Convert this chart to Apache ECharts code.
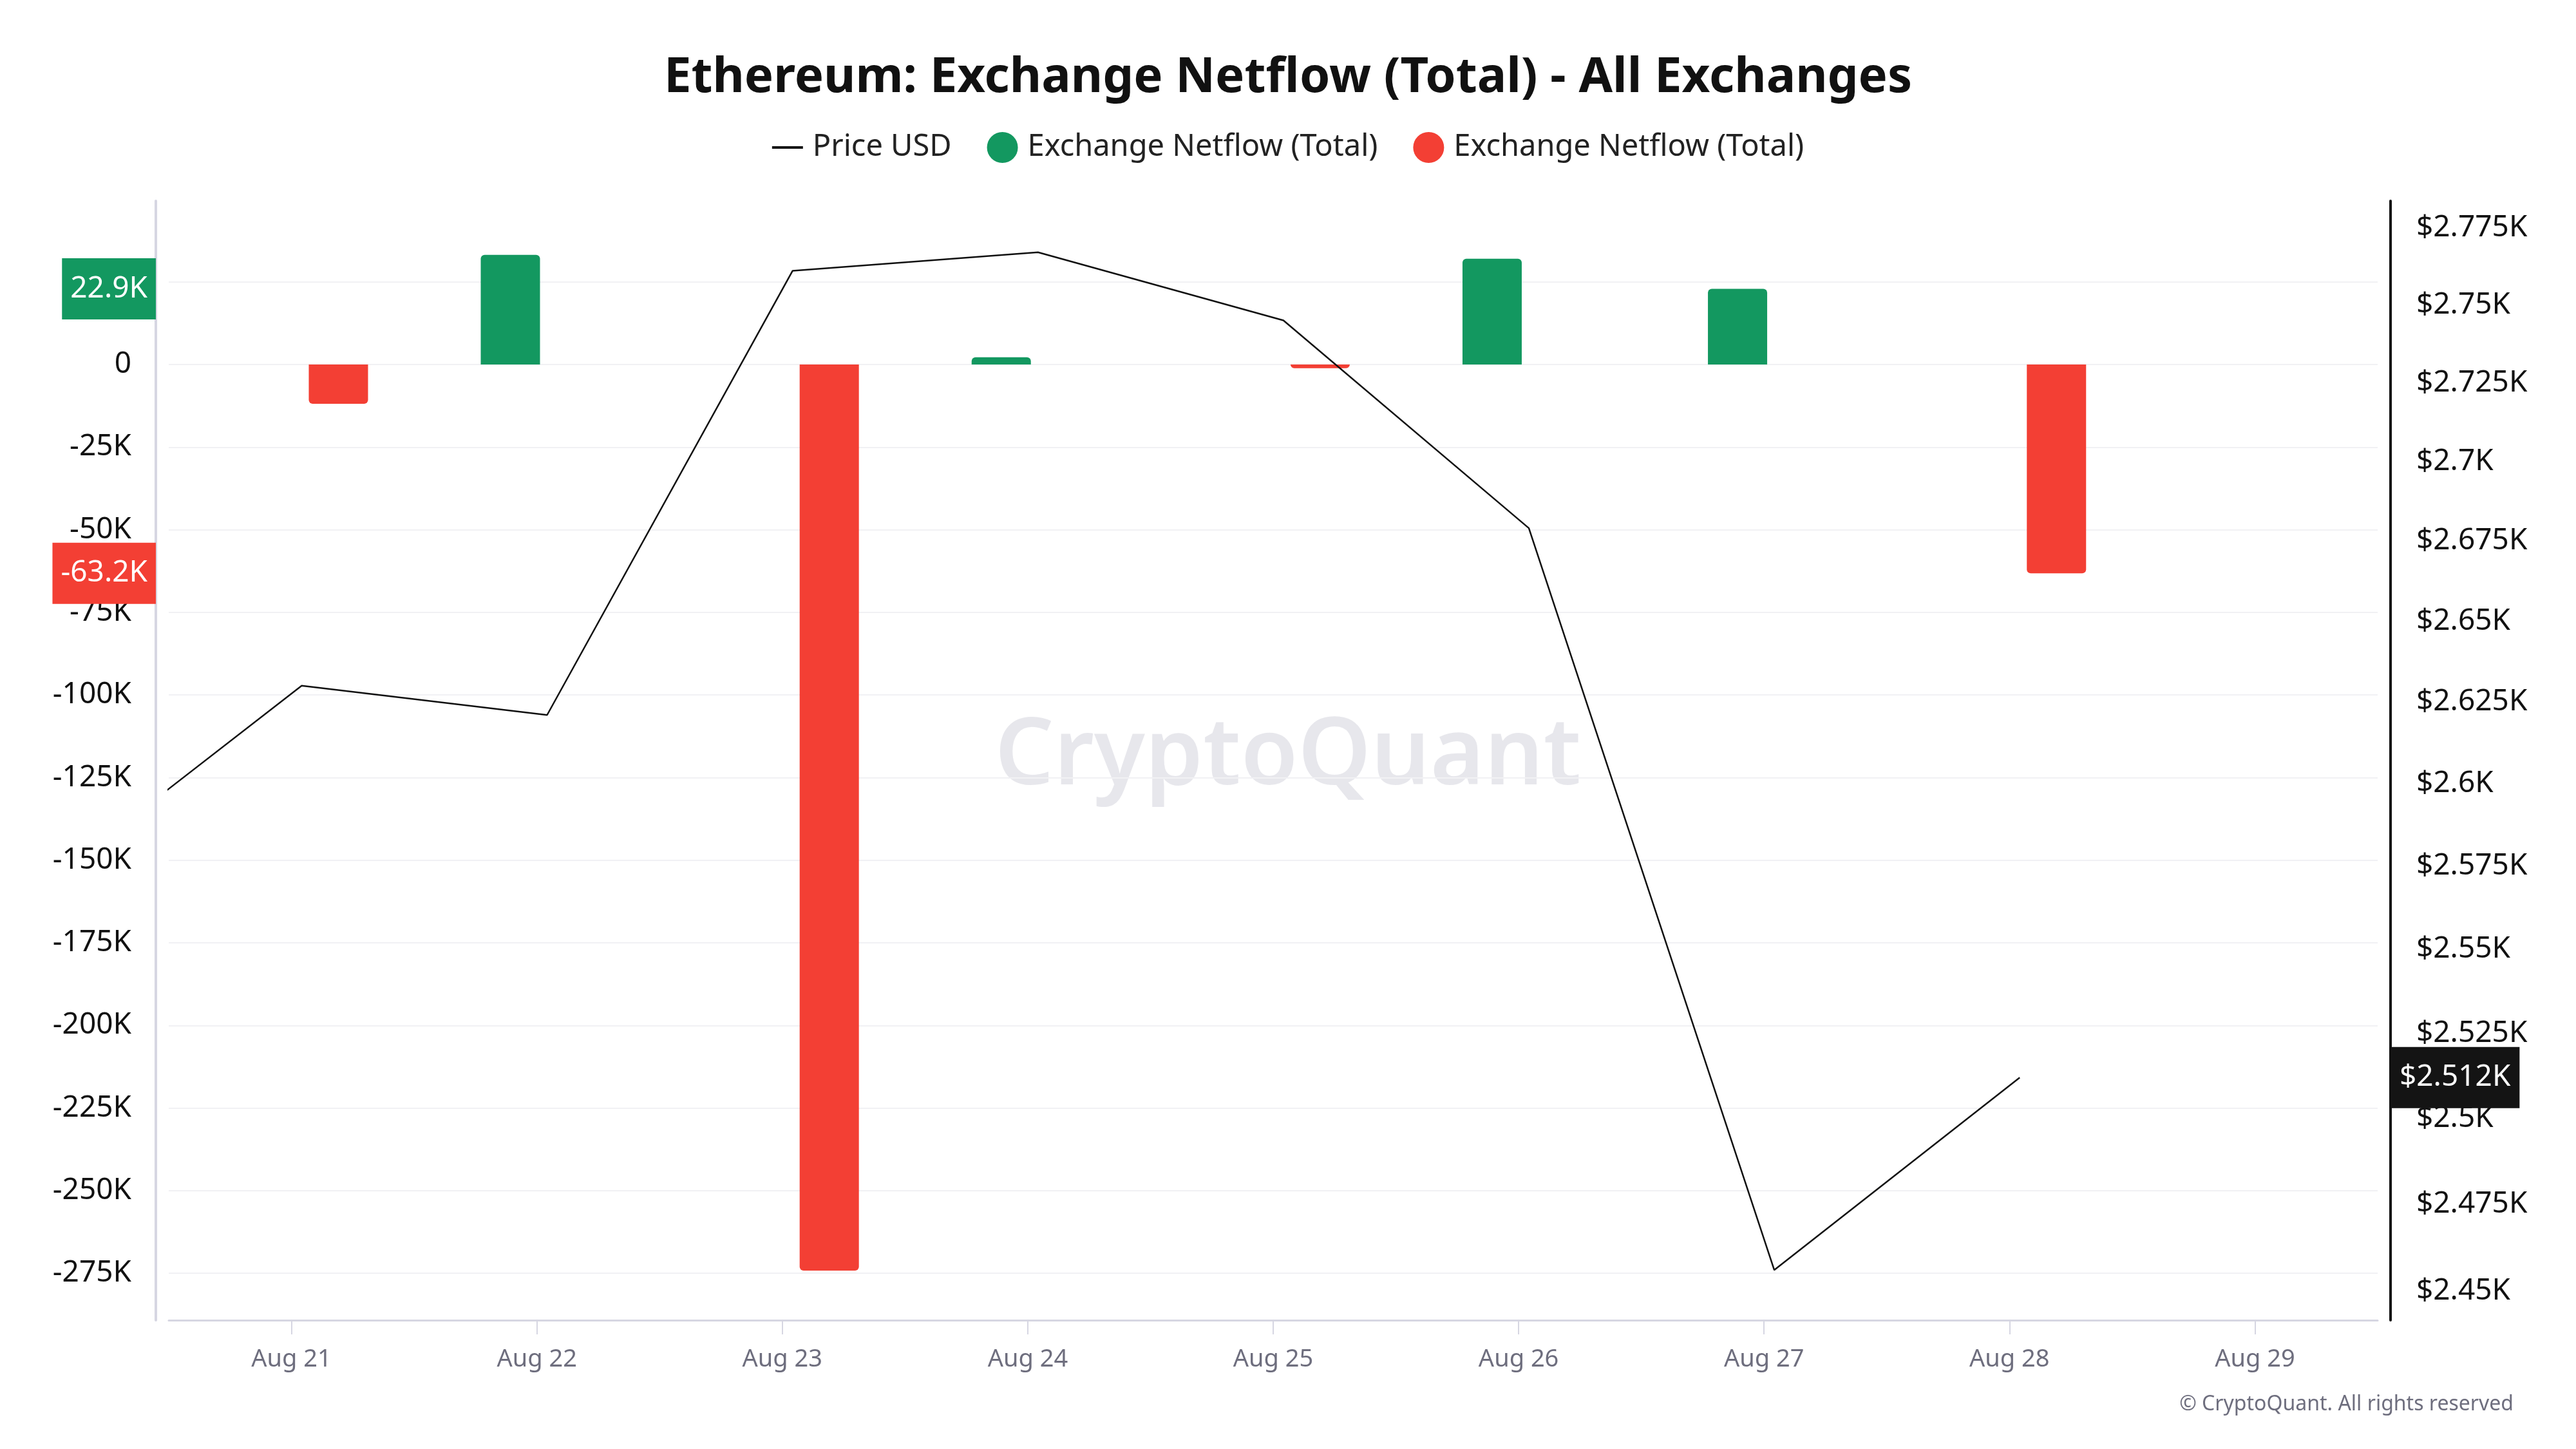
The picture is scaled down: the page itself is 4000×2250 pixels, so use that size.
<!DOCTYPE html>
<html>
<head>
<meta charset="utf-8">
<style>
  html, body { margin: 0; padding: 0; background: #ffffff; }
  #chart { width: 4000px; height: 2250px; }
</style>
<script src="https://cdn.jsdelivr.net/npm/echarts@6/dist/echarts.min.js"></script>
</head>
<body>
<div id="chart"></div>
<script>
// ---- data ----
const dates = ['2024-08-20T01:00', '2024-08-21T01:00', '2024-08-22T01:00', '2024-08-23T01:00', '2024-08-24T01:00',
               '2024-08-25T01:00', '2024-08-26T01:00', '2024-08-27T01:00', '2024-08-28T01:00'];
const priceUSD = [2572, 2630, 2621, 2761, 2767, 2745, 2679, 2456, 2512];
const netflowPositive = [null, null, 33200, null, 2200, null, 32000, 22900, null];
const netflowNegative = [null, -11900, null, -274200, null, -1100, null, null, -63200];
const xRange = ['2024-08-20T12:00', '2024-08-29T12:00'];
const xTickDates = ['2024-08-21T00:00', '2024-08-22T00:00', '2024-08-23T00:00', '2024-08-24T00:00', '2024-08-25T00:00',
                    '2024-08-26T00:00', '2024-08-27T00:00', '2024-08-28T00:00', '2024-08-29T00:00'];
const netflowTicks = [25000, 0, -25000, -50000, -75000, -100000, -125000, -150000, -175000,
                      -200000, -225000, -250000, -275000];
const priceTicks = [2450, 2475, 2500, 2525, 2550, 2575, 2600, 2625, 2650, 2675, 2700, 2725, 2750, 2775];

const GREEN = '#139860';
const RED = '#f33f34';
const FONT = '"Noto Sans", "Open Sans", sans-serif';
const MONTHS = ['Jan','Feb','Mar','Apr','May','Jun','Jul','Aug','Sep','Oct','Nov','Dec'];

const ts = s => new Date(s).getTime();
const lastOf = arr => { for (let i = arr.length - 1; i >= 0; i--) if (arr[i] != null) return arr[i]; return null; };
const pair = arr => dates.map((d, i) => [ts(d), arr[i]]);

const NAME_POS = 'Exchange Netflow (Total)';
const NAME_NEG = 'Exchange Netflow (Total)\u200b';

const chart = echarts.init(document.getElementById('chart'), null, { renderer: 'canvas' });

const hiddenLine = { color: 'rgba(0,0,0,0)', width: 1, type: 'solid' };

const option = {
  animation: false,
  backgroundColor: '#ffffff',
  textStyle: { fontFamily: FONT },
  title: {
    text: 'Ethereum: Exchange Netflow (Total) - All Exchanges',
    left: 'center', top: 78,
    textStyle: { fontSize: 76, fontWeight: 'bold', color: '#111111', fontFamily: FONT }
  },
  legend: {
    top: 200, left: 'center',
    itemWidth: 48, itemHeight: 48, itemGap: 55,
    textStyle: { fontSize: 47, color: '#222222', fontFamily: FONT, padding: [0, 0, 0, 10] },
    data: [
      { name: 'Price USD', icon: 'path://M0,0 L48,0 L48,4 L0,4 Z' },
      { name: NAME_POS, icon: 'circle' },
      { name: NAME_NEG, icon: 'circle' }
    ]
  },
  grid: { left: 262, right: 308, top: 312, bottom: 200, containLabel: false },
  xAxis: {
    type: 'value',
    min: ts(xRange[0]), max: ts(xRange[1]),
    axisLine: { show: true, onZero: false, lineStyle: { color: '#d6d6e2', width: 3 } },
    axisTick: { show: true, length: 22, customValues: xTickDates.map(ts), lineStyle: { color: '#d6d6e2', width: 2 } },
    axisLabel: {
      customValues: xTickDates.map(ts),
      fontSize: 38, color: '#6e6e7e', margin: 42, fontFamily: FONT,
      formatter: v => { const d = new Date(v); return MONTHS[d.getMonth()] + ' ' + d.getDate(); }
    },
    splitLine: { show: false }
  },
  yAxis: [
    {
      type: 'value', position: 'left', offset: 20,
      min: -289200, max: 49500,
      axisLine: { show: true, lineStyle: { color: '#d6d6e2', width: 4 } },
      axisTick: { show: false, customValues: netflowTicks },
      axisLabel: {
        customValues: netflowTicks,
        fontSize: 46, color: '#111111', margin: 38, fontFamily: FONT,
        formatter: v => v === 0 ? '0' : (v / 1000) + 'K'
      },
      splitLine: { show: true, lineStyle: { color: '#f1f1f4', width: 2 } }
    },
    {
      type: 'log', position: 'right', offset: 20,
      min: 2441.6, max: 2783.7,
      axisLine: { show: true, lineStyle: { color: '#111111', width: 4 } },
      axisTick: { show: false, customValues: priceTicks },
      axisLabel: {
        customValues: priceTicks,
        fontSize: 46, color: '#111111', margin: 40, fontFamily: FONT,
        formatter: v => '$' + (v / 1000) + 'K'
      },
      splitLine: { show: false }
    }
  ],
  series: [
    {
      name: NAME_POS, type: 'bar', yAxisIndex: 0,
      data: pair(netflowPositive),
      barWidth: 92, barGap: '24%',
      itemStyle: { color: GREEN, borderRadius: [6, 6, 0, 0] },
      z: 2,
      markLine: {
        silent: true, symbol: ['none', 'none'], animation: false, z: 10,
        lineStyle: hiddenLine,
        emphasis: { disabled: true },
        label: {
          show: true, position: 'start', distance: 20,
          formatter: p => (p.value / 1000).toFixed(1) + 'K',
          color: '#ffffff', backgroundColor: GREEN, fontSize: 46, lineHeight: 55,
          padding: [20, 13, 20, 13], fontFamily: FONT
        },
        data: [{ yAxis: lastOf(netflowPositive) }]
      }
    },
    {
      name: NAME_NEG, type: 'bar', yAxisIndex: 0,
      data: pair(netflowNegative),
      barWidth: 92, barGap: '24%',
      itemStyle: { color: RED, borderRadius: [0, 0, 6, 6] },
      z: 2,
      markLine: {
        silent: true, symbol: ['none', 'none'], animation: false, z: 10,
        lineStyle: hiddenLine,
        emphasis: { disabled: true },
        label: {
          show: true, position: 'start', distance: 20,
          formatter: p => (p.value / 1000).toFixed(1) + 'K',
          color: '#ffffff', backgroundColor: RED, fontSize: 46, lineHeight: 55,
          padding: [20, 13, 20, 13], fontFamily: FONT
        },
        data: [{ yAxis: lastOf(netflowNegative) }]
      }
    },
    {
      name: 'Price USD', type: 'line', yAxisIndex: 1,
      data: pair(priceUSD),
      symbol: 'none', showSymbol: false,
      lineStyle: { color: '#111111', width: 2.5 },
      itemStyle: { color: '#111111' },
      z: 3,
      markLine: {
        silent: true, symbol: ['none', 'none'], animation: false, z: 10,
        lineStyle: hiddenLine,
        emphasis: { disabled: true },
        label: {
          show: true, position: 'end', distance: 20,
          formatter: p => '$' + (p.value / 1000).toFixed(3) + 'K',
          color: '#ffffff', backgroundColor: '#141414', fontSize: 46, lineHeight: 55,
          padding: [20, 14, 20, 14], fontFamily: FONT
        },
        data: [{ yAxis: lastOf(priceUSD) }]
      }
    }
  ],
  graphic: [
    {
      type: 'text', left: 'center', top: 1105, z: 0, silent: true,
      style: { text: 'CryptoQuant', fontSize: 144, fontWeight: 600, fill: 'rgba(215,215,224,0.6)', fontFamily: FONT }
    },
    {
      type: 'text', right: 97, top: 2165, silent: true,
      style: { text: '\u00A9 CryptoQuant. All rights reserved', fontSize: 32, fill: '#6e6e7e', fontFamily: FONT }
    }
  ]
};

chart.setOption(option);
</script>
</body>
</html>
